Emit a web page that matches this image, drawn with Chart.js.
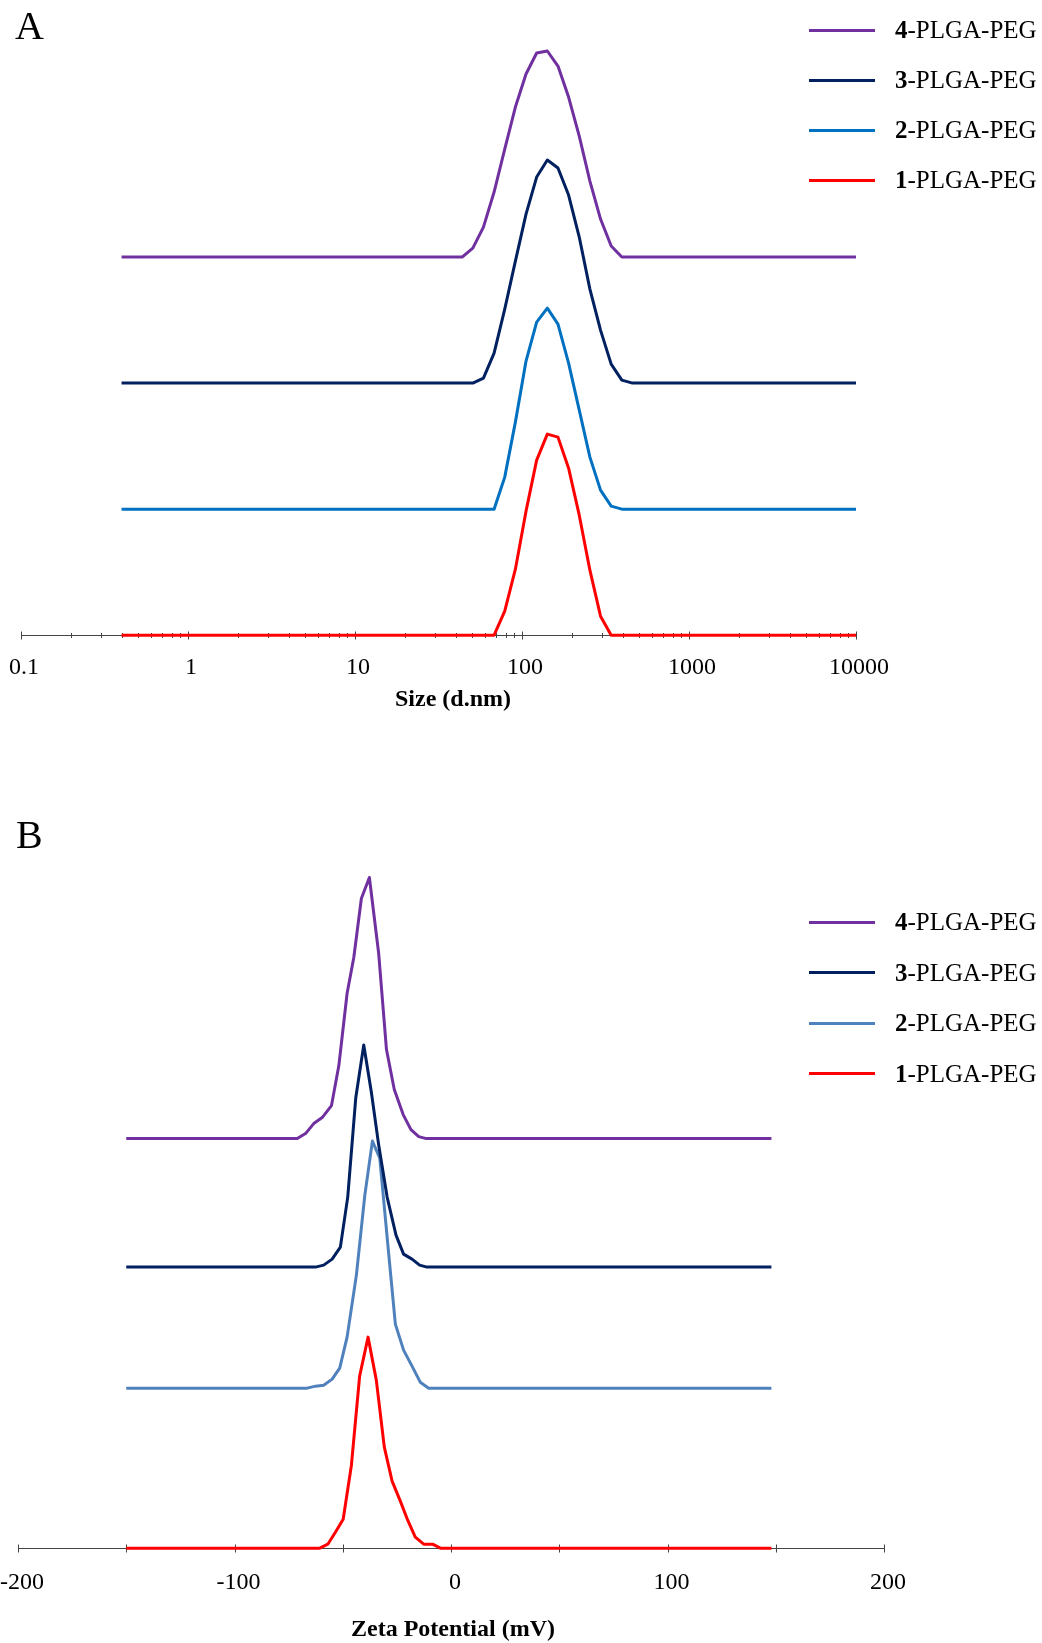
<!DOCTYPE html>
<html>
<head>
<meta charset="utf-8">
<title>PLGA-PEG size and zeta potential</title>
<script src="https://cdn.jsdelivr.net/npm/chart.js@4.4.0/dist/chart.umd.min.js"></script>
<style>
  html, body { margin: 0; padding: 0; background: #fff; }
  body {
    width: 1042px;
    height: 1643px;
    position: relative;
    overflow: hidden;
    font-family: "Liberation Serif", "Times New Roman", serif;
  }
  .panel { position: absolute; left: 0; width: 1042px; }
  .tag { position: absolute; font-size: 40px; line-height: 40px; color: #000; }
  .axis-title {
    position: absolute; left: 253px; width: 400px; text-align: center;
    font-size: 24px; line-height: 24px; font-weight: bold; color: #000; white-space: nowrap;
  }
  .legend { position: absolute; left: 809px; }
  .legend .item { display: flex; align-items: center; }
  .legend .swatch { display: block; width: 66px; height: 3px; margin-right: 20px; }
  .legend .label { font-size: 25px; color: #000; white-space: nowrap; }
</style>
</head>
<body>
<div class="panel" style="top: 0; height: 720px"><canvas id="sizeChart"></canvas></div>
<div class="panel" style="top: 790px; height: 853px"><canvas id="zetaChart"></canvas></div>
<div class="tag" style="left: 15px; top: 6px">A</div>
<div class="tag" style="left: 16px; top: 815px">B</div>
<div class="axis-title" style="top: 686px">Size (d.nm)</div>
<div class="axis-title" style="top: 1616px">Zeta Potential (mV)</div>
<div class="legend" id="sizeLegend" style="top: 5px"></div>
<div class="legend" id="zetaLegend" style="top: 897px"></div>
<script>
// series, listed top to bottom as in the legends
const seriesNumbers = ["4", "3", "2", "1"];
const seriesSuffix = "-PLGA-PEG";
const sizeColors = ["#7030A0", "#002060", "#0070C0", "#FF0000"];
const zetaColors = ["#7030A0", "#002060", "#4F81BD", "#FF0000"];

// A: intensity distribution over size bins (d.nm)
const sizeBins = [0.4, 43.82, 50.75, 58.77, 68.06, 78.82, 91.28, 105.7, 122.4, 141.8,
  164.2, 190.1, 220.2, 255.0, 295.3, 342.0, 396.1, 458.7, 10000];
const size4 = [0, 0, 0.9, 3.0, 6.5, 10.8, 15.0, 18.3, 20.4, 20.6, 19.1, 16.0, 12.1, 7.6, 3.8, 1.1, 0, 0, 0];
const size3 = [0, 0, 0, 0.5, 3.0, 7.4, 12.2, 16.9, 20.6, 22.3, 21.5, 18.8, 14.6, 9.4, 5.3, 1.9, 0.3, 0, 0];
const size2 = [0, 0, 0, 0, 0, 3.2, 8.7, 14.8, 18.7, 20.1, 18.5, 14.6, 9.9, 5.2, 1.9, 0.3, 0, 0, 0];
const size1 = [0, 0, 0, 0, 0, 2.4, 6.6, 12.4, 17.5, 20.1, 19.8, 16.7, 12.0, 6.5, 1.9, 0, 0, 0, 0];
const sizeTickValues = [0.1, 1, 10, 100, 1000, 10000];
const sizeTickLabels = ["0.1", "1", "10", "100", "1000", "10000"];

// B: zeta potential distribution (mV)
const zeta4X = [-150, -71.0, -67.2, -63.4, -59.5, -55.2, -51.8, -48.0, -44.9, -41.4,
  -37.7, -33.4, -29.8, -26.2, -22.1, -18.5, -14.9, -11.4, 148];
const zeta4Y = [0, 0, 0.5, 1.5, 2.1, 3.3, 7.3, 14.5, 18.1, 24.0, 26.1, 18.5, 8.9, 4.9, 2.4, 0.9, 0.2, 0, 0];
const zeta3X = [-150, -62.6, -58.8, -54.9, -51.1, -47.7, -44.0, -40.3, -36.8, -33.4,
  -29.5, -25.4, -21.9, -18.0, -14.5, -11.1, 148];
const zeta3Y = [0, 0, 0.2, 0.8, 2.0, 7.0, 16.9, 22.2, 17.5, 12.2, 7.0, 3.2, 1.3, 0.8, 0.2, 0, 0];
const zeta2X = [-150, -66.4, -62.6, -58.8, -54.9, -51.4, -48.0, -43.7, -39.8, -36.3,
  -32.9, -29.2, -25.7, -21.9, -18.0, -14.2, -10.3, 148];
const zeta2Y = [0, 0, 0.2, 0.3, 0.9, 2.0, 5.1, 11.3, 19.3, 24.7, 23.0, 14.4, 6.4, 3.8, 2.2, 0.6, 0, 0];
const zeta1X = [-150, -60.6, -56.9, -53.4, -49.8, -46.0, -42.2, -38.3, -34.5, -30.8,
  -27.2, -23.4, -20.0, -16.5, -12.6, -8.5, -4.9, 148];
const zeta1Y = [0, 0, 0.4, 1.6, 2.9, 8.3, 17.2, 21.1, 16.8, 10.1, 6.7, 4.7, 2.8, 1.1, 0.4, 0.4, 0, 0];
const zetaTickValues = [-200, -100, 0, 100, 200];
const zetaTickLabels = ["-200", "-100", "0", "100", "200"];

// vertical shift of each trace (waterfall layout)
const sizeOffsets = [37.8, 25.2, 12.6, 0];
const zetaOffsets = [40.95, 28.1, 16.0, 0];

const serif = "'Liberation Serif', 'Times New Roman', serif";

// tick marks that cross the axis line, like the original plot
const crossTicks = {
  id: "crossTicks",
  beforeDatasetsDraw(chart, args, opts) {
    const scale = chart.scales.x;
    const y = Math.round(chart.chartArea.bottom) + 0.5;
    const ctx = chart.ctx;
    ctx.save();
    ctx.strokeStyle = opts.color;
    ctx.lineWidth = 1;
    scale.ticks.forEach((t) => {
      const x = Math.round(scale.getPixelForValue(t.value)) + 0.5;
      const len = opts.majors.includes(t.value) ? opts.majorLen : opts.minorLen;
      ctx.beginPath();
      ctx.moveTo(x, y - len);
      ctx.lineTo(x, y + len);
      ctx.stroke();
    });
    ctx.restore();
  },
};

function buildLegend(id, colors, rowHeight) {
  const box = document.getElementById(id);
  seriesNumbers.forEach((n, i) => {
    const item = document.createElement("div");
    item.className = "item";
    item.style.height = rowHeight + "px";
    const swatch = document.createElement("span");
    swatch.className = "swatch";
    swatch.style.background = colors[i];
    const label = document.createElement("span");
    label.className = "label";
    label.style.lineHeight = rowHeight + "px";
    const num = document.createElement("b");
    num.textContent = n;
    label.appendChild(num);
    label.appendChild(document.createTextNode(seriesSuffix));
    item.appendChild(swatch);
    item.appendChild(label);
    box.appendChild(item);
  });
}

function lineDataset(label, points, color) {
  return {
    label: label,
    data: points,
    borderColor: color,
    backgroundColor: color,
    borderWidth: 3,
    borderJoinStyle: "round",
    pointRadius: 0,
    tension: 0,
    fill: false,
    clip: false,
  };
}

function xAxis(extra) {
  return Object.assign({
    grid: { display: false, drawTicks: false },
    border: { display: true, color: "#444", width: 1 },
    afterFit: (scale) => {
      scale.paddingLeft = 0;
      scale.paddingRight = 0;
    },
  }, extra);
}

document.addEventListener("DOMContentLoaded", function () {
  buildLegend("sizeLegend", sizeColors, 50);
  buildLegend("zetaLegend", zetaColors, 50.5);

  // Size distribution (A)
  const sizeSeries = [size4, size3, size2, size1];
  const sizeAllTicks = [];
  sizeTickValues.forEach((d, i) => {
    sizeAllTicks.push(d);
    if (i < sizeTickValues.length - 1) {
      for (let m = 2; m <= 9; m++) sizeAllTicks.push(d * m);
    }
  });

  new Chart(document.getElementById("sizeChart"), {
    type: "line",
    data: {
      datasets: sizeSeries.map((vals, i) =>
        lineDataset(
          seriesNumbers[i] + seriesSuffix,
          sizeBins.map((s, j) => ({ x: s, y: vals[j] + sizeOffsets[i] })),
          sizeColors[i],
        ),
      ),
    },
    options: {
      responsive: true,
      maintainAspectRatio: false,
      animation: false,
      layout: { padding: { left: 21, right: 186, top: 35, bottom: 20 } },
      scales: {
        x: xAxis({
          type: "logarithmic",
          min: 0.1,
          max: 10000,
          afterBuildTicks: (scale) => {
            scale.ticks = sizeAllTicks.map((v) => ({ value: v }));
          },
          ticks: {
            autoSkip: false,
            maxRotation: 0,
            padding: 18,
            labelOffset: 3,
            color: "#000",
            font: { family: serif, size: 24 },
            callback: (v) => {
              const k = sizeTickValues.indexOf(v);
              return k >= 0 ? sizeTickLabels[k] : "";
            },
          },
        }),
        y: { display: false, min: 0, max: 60 },
      },
      plugins: {
        legend: { display: false },
        tooltip: { enabled: false },
        crossTicks: { color: "#444", majors: sizeTickValues, majorLen: 4, minorLen: 2.5 },
      },
    },
    plugins: [crossTicks],
  });

  // Zeta potential distribution (B)
  const zetaXs = [zeta4X, zeta3X, zeta2X, zeta1X];
  const zetaYs = [zeta4Y, zeta3Y, zeta2Y, zeta1Y];

  new Chart(document.getElementById("zetaChart"), {
    type: "line",
    data: {
      datasets: zetaXs.map((xs, i) =>
        lineDataset(
          seriesNumbers[i] + seriesSuffix,
          xs.map((x, j) => ({ x: x, y: zetaYs[i][j] + zetaOffsets[i] })),
          zetaColors[i],
        ),
      ),
    },
    options: {
      responsive: true,
      maintainAspectRatio: false,
      animation: false,
      layout: { padding: { left: 18, right: 158, top: 58, bottom: 26 } },
      scales: {
        x: xAxis({
          type: "linear",
          min: -200,
          max: 200,
          ticks: {
            stepSize: 50,
            autoSkip: false,
            maxRotation: 0,
            padding: 20,
            labelOffset: 4,
            color: "#000",
            font: { family: serif, size: 24 },
            callback: (v) => {
              const k = zetaTickValues.indexOf(v);
              return k >= 0 ? zetaTickLabels[k] : "";
            },
          },
        }),
        y: { display: false, min: 0, max: 70 },
      },
      plugins: {
        legend: { display: false },
        tooltip: { enabled: false },
        crossTicks: { color: "#444", majors: [], majorLen: 4, minorLen: 4 },
      },
    },
    plugins: [crossTicks],
  });
});
</script>
</body>
</html>
